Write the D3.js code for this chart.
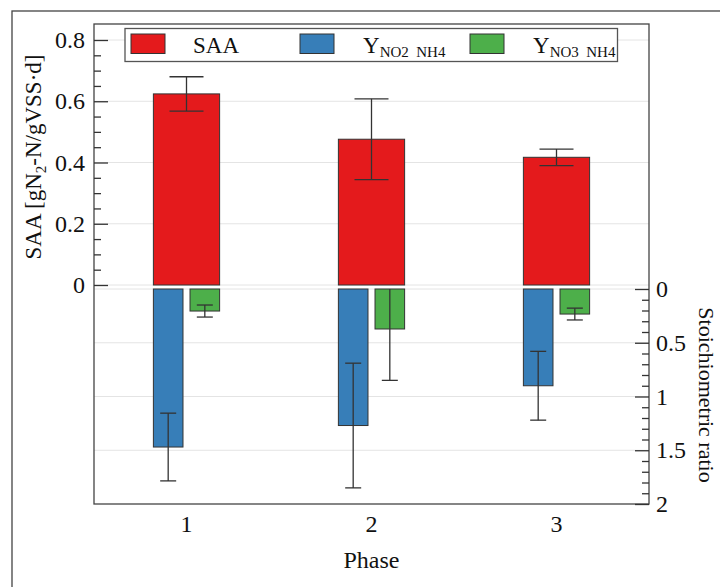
<!DOCTYPE html>
<html>
<head>
<meta charset="utf-8">
<script src="https://cdn.jsdelivr.net/npm/d3@7"></script>
<style>
  html, body { margin: 0; padding: 0; background: #fff; }
  svg { display: block; }
  text { font-family: "Liberation Serif", "Times New Roman", serif; fill: #111; }
</style>
</head>
<body>
<svg id="chart" width="720" height="587"></svg>
<script>
// ---- data ----
const phases = ["1", "2", "3"];
const saa = [0.624, 0.476, 0.417];
const saaErr = [0.056, 0.132, 0.027];
const yNO2 = [1.47, 1.27, 0.90];
const yNO2Err = [0.315, 0.58, 0.32];
const yNO3 = [0.205, 0.372, 0.233];
const yNO3Err = [0.056, 0.478, 0.055];
const leftTicks = [0, 0.2, 0.4, 0.6, 0.8];
const rightTicks = [0, 0.5, 1, 1.5, 2];

// ---- layout ----
const svg = d3.select("#chart");
const W = 720, H = 587;
const FONT = "Liberation Serif, Times New Roman, serif";
const plot = { left: 94, right: 649, top: 24, bottom: 504 };
const colors = { saa: "#e41a1c", no2: "#377eb8", no3: "#4daf4a" };

const x = d3.scaleBand().domain(phases).range([plot.left, plot.right]).paddingInner(0).paddingOuter(0);
const yL = d3.scaleLinear().domain([0, 0.8]).range([285, 40]);
const yR = d3.scaleLinear().domain([0, 2]).range([289, 504]);

const bw = x.bandwidth();
const subW = bw * 0.16;
const gap = bw * 0.038;
const redW = subW * 2 + gap;

// outer frame (partially cropped)
svg.append("rect").attr("x", 12).attr("y", 11).attr("width", W).attr("height", H)
  .attr("fill", "none").attr("stroke", "#444").attr("stroke-width", 1.3);

// gridlines
const grid = svg.append("g");
leftTicks.forEach(t => {
  grid.append("line").attr("x1", plot.left).attr("x2", plot.right)
    .attr("y1", yL(t)).attr("y2", yL(t)).attr("stroke", "#e4e4e4").attr("stroke-width", 1);
});
rightTicks.slice(0, 4).forEach(t => {
  grid.append("line").attr("x1", plot.left).attr("x2", plot.right)
    .attr("y1", yR(t)).attr("y2", yR(t)).attr("stroke", "#e4e4e4").attr("stroke-width", 1);
});

// bars
const cx = p => x(p) + bw / 2;
const barStroke = "#333";
svg.append("g").selectAll("rect").data(phases).join("rect")
  .attr("x", p => cx(p) - redW / 2).attr("width", redW)
  .attr("y", (p, i) => yL(saa[i])).attr("height", (p, i) => yL(0) - yL(saa[i]))
  .attr("fill", colors.saa).attr("stroke", barStroke).attr("stroke-width", 1);
svg.append("g").selectAll("rect").data(phases).join("rect")
  .attr("x", p => cx(p) - redW / 2).attr("width", subW)
  .attr("y", yR(0)).attr("height", (p, i) => yR(yNO2[i]) - yR(0))
  .attr("fill", colors.no2).attr("stroke", barStroke).attr("stroke-width", 1);
svg.append("g").selectAll("rect").data(phases).join("rect")
  .attr("x", p => cx(p) + redW / 2 - subW).attr("width", subW)
  .attr("y", yR(0)).attr("height", (p, i) => yR(yNO3[i]) - yR(0))
  .attr("fill", colors.no3).attr("stroke", barStroke).attr("stroke-width", 1);

// error bars
const errG = svg.append("g").attr("stroke", "#333").attr("stroke-width", 1.3);
function errBar(xc, lo, hi, scale, capW, minVal) {
  const loC = Math.max(lo, minVal);
  errG.append("line").attr("x1", xc).attr("x2", xc).attr("y1", scale(loC)).attr("y2", scale(hi));
  if (lo >= minVal) errG.append("line").attr("x1", xc - capW / 2).attr("x2", xc + capW / 2).attr("y1", scale(lo)).attr("y2", scale(lo));
  errG.append("line").attr("x1", xc - capW / 2).attr("x2", xc + capW / 2).attr("y1", scale(hi)).attr("y2", scale(hi));
}
phases.forEach((p, i) => {
  errBar(cx(p), saa[i] - saaErr[i], saa[i] + saaErr[i], yL, 34, 0);
  errBar(cx(p) - redW / 2 + subW / 2, yNO2[i] - yNO2Err[i], yNO2[i] + yNO2Err[i], yR, 16, 0);
  errBar(cx(p) + redW / 2 - subW / 2, yNO3[i] - yNO3Err[i], yNO3[i] + yNO3Err[i], yR, 16, 0);
});

// plot frame
svg.append("rect").attr("x", plot.left).attr("y", plot.top)
  .attr("width", plot.right - plot.left).attr("height", plot.bottom - plot.top)
  .attr("fill", "none").attr("stroke", "#444").attr("stroke-width", 1.3);

function styleLabels(g) {
  g.attr("font-family", FONT).attr("font-size", 24);
  g.selectAll("text").attr("font-family", FONT).attr("font-size", 24)
    .style("font-family", FONT).style("font-size", "24px").attr("fill", "#111");
}

// left axis: ticks pointing inward
const leftMinor = d3.range(0.05, 0.8, 0.05).filter(v => Math.abs(v * 5 - Math.round(v * 5)) > 1e-6);
svg.append("g").attr("transform", `translate(${plot.left},0)`)
  .call(d3.axisRight(yL).tickValues(leftMinor).tickSize(7).tickFormat(""))
  .call(g => g.select(".domain").remove())
  .call(g => g.selectAll("line").attr("stroke", "#333").attr("stroke-width", 1.3));
svg.append("g").attr("transform", `translate(${plot.left},0)`)
  .call(d3.axisRight(yL).tickValues(leftTicks).tickSize(14).tickFormat(""))
  .call(g => g.select(".domain").remove())
  .call(g => g.selectAll("line").attr("stroke", "#333").attr("stroke-width", 1.3));
svg.append("g").attr("transform", `translate(${plot.left},0)`)
  .call(d3.axisLeft(yL).tickValues(leftTicks).tickSize(0).tickPadding(9).tickFormat(d => d === 0 ? "0" : d3.format(".1f")(d)))
  .call(g => g.select(".domain").remove())
  .call(styleLabels);

// right axis: ticks pointing inward
const rightMinor = d3.range(0.1, 2, 0.1).filter(v => Math.abs(v * 2 - Math.round(v * 2)) > 1e-6);
svg.append("g").attr("transform", `translate(${plot.right},0)`)
  .call(d3.axisLeft(yR).tickValues(rightMinor).tickSize(7).tickFormat(""))
  .call(g => g.select(".domain").remove())
  .call(g => g.selectAll("line").attr("stroke", "#333").attr("stroke-width", 1.3));
svg.append("g").attr("transform", `translate(${plot.right},0)`)
  .call(d3.axisLeft(yR).tickValues(rightTicks).tickSize(14).tickFormat(""))
  .call(g => g.select(".domain").remove())
  .call(g => g.selectAll("line").attr("stroke", "#333").attr("stroke-width", 1.3));
svg.append("g").attr("transform", `translate(${plot.right},0)`)
  .call(d3.axisRight(yR).tickValues(rightTicks).tickSize(0).tickPadding(7).tickFormat(d => String(d)))
  .call(g => g.select(".domain").remove())
  .call(styleLabels);

// x axis labels
svg.append("g").attr("transform", `translate(0,${plot.bottom})`)
  .call(d3.axisBottom(x).tickSize(0).tickPadding(11))
  .call(g => g.select(".domain").remove())
  .call(styleLabels);

// axis titles
svg.append("text").attr("x", (plot.left + plot.right) / 2).attr("y", 568)
  .attr("text-anchor", "middle").style("font-size", "24px").text("Phase");

const yt = svg.append("text").attr("transform", "translate(41,157) rotate(-90)")
  .attr("text-anchor", "middle").style("font-size", "23px");
yt.append("tspan").text("SAA [gN");
yt.append("tspan").attr("dy", 5).style("font-size", "15px").text("2");
yt.append("tspan").attr("dy", -5).text("-N/gVSS·d]");

svg.append("text").attr("transform", "translate(699,395) rotate(90)")
  .attr("text-anchor", "middle").style("font-size", "22px").text("Stoichiometric ratio");

// legend
const lg = svg.append("g");
lg.append("rect").attr("x", 125).attr("y", 28.5).attr("width", 492.5).attr("height", 33)
  .attr("fill", "#fff").attr("stroke", "#555").attr("stroke-width", 1.3);
const legendItems = [
  { color: colors.saa, sx: 131, tx: 193, main: "SAA", sub: "" },
  { color: colors.no2, sx: 300, tx: 363, main: "Y", sub: "NO2\u2002NH4" },
  { color: colors.no3, sx: 470, tx: 533, main: "Y", sub: "NO3\u2002NH4" }
];
legendItems.forEach(it => {
  lg.append("rect").attr("x", it.sx).attr("y", 34).attr("width", 34).attr("height", 19.5)
    .attr("fill", it.color).attr("stroke", "#333").attr("stroke-width", 1);
  const t = lg.append("text").attr("x", it.tx).attr("y", 53).style("font-size", "23px");
  t.append("tspan").text(it.main);
  if (it.sub) t.append("tspan").attr("dy", 4).style("font-size", "15px").text(it.sub);
});
</script>
</body>
</html>
